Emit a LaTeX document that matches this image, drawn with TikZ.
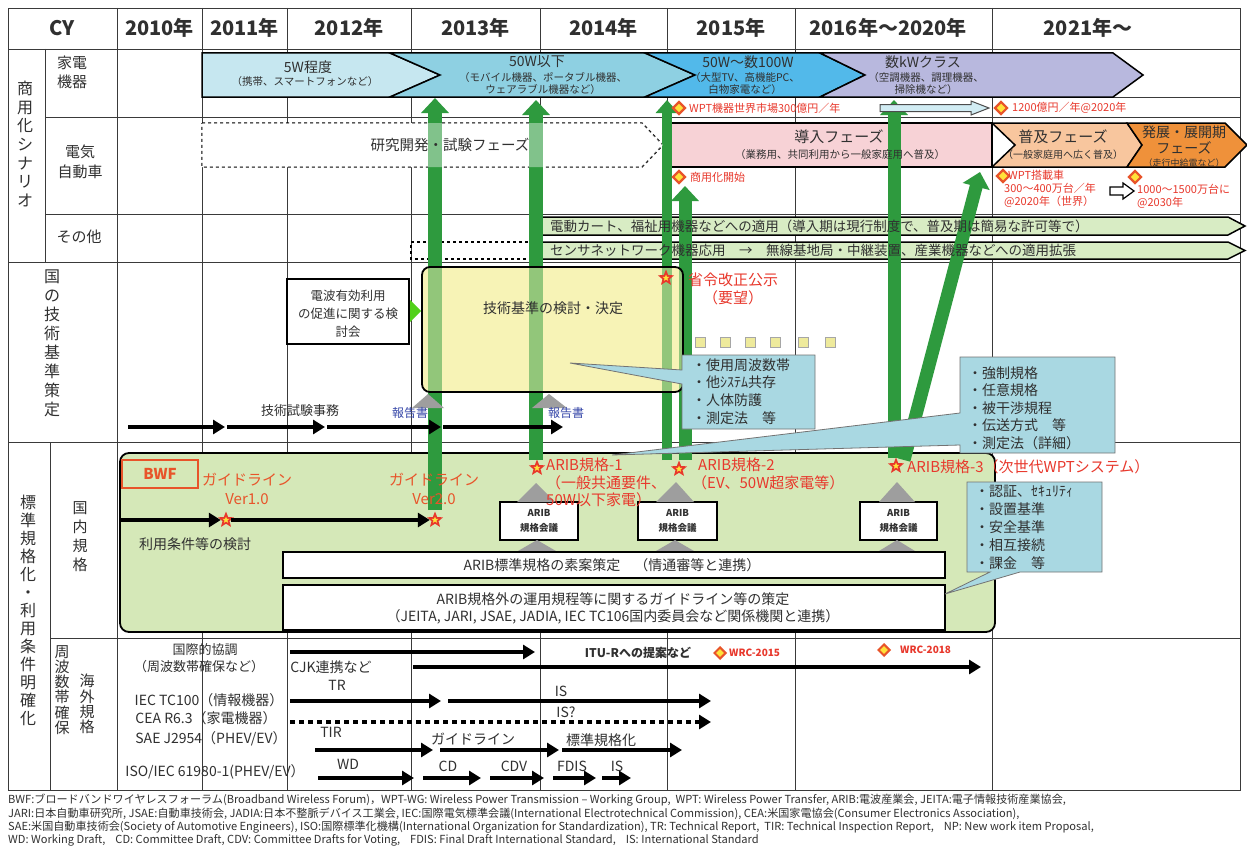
\documentclass[tikz,border=0pt]{standalone}
\usepackage{fontspec}
\setmainfont{Noto Sans CJK JP}
\usetikzlibrary{arrows.meta,shapes.geometric}
\definecolor{gridc}{HTML}{3A3A3A}
\definecolor{txt}{HTML}{303030}
\definecolor{cA}{HTML}{C6E7F0}
\definecolor{cB}{HTML}{8ED0E2}
\definecolor{cC}{HTML}{52B9EA}
\definecolor{cD}{HTML}{B8B8DE}
\definecolor{gArrow}{HTML}{2E9A3E}
\definecolor{band}{HTML}{D8ECC4}
\definecolor{pinkc}{HTML}{F7D2D6}
\definecolor{orL}{HTML}{F8C69E}
\definecolor{orD}{HTML}{EF913A}
\definecolor{yel}{HTML}{F7F3B6}
\definecolor{callc}{HTML}{A9D8E2}
\definecolor{grnbox}{HTML}{D5E8B8}
\definecolor{wred}{HTML}{E8382C}
\definecolor{blu}{HTML}{3546A8}
\definecolor{dorange}{HTML}{E8542A}
\definecolor{dyel}{HTML}{FFE23A}
\definecolor{sqc}{HTML}{EEEA9C}
\newcommand\F[2]{\fontsize{#1}{#2}\selectfont}
\begin{document}
\begin{tikzpicture}[x=1pt,y=-1pt,
  gl/.style={draw=gridc,line width=0.9pt},
  t/.style={inner sep=0pt,text=txt,align=center},
  rt/.style={inner sep=0pt,text=wred,align=left},
  box/.style={draw=black,line width=1.5pt},
  starO/.style={star,star points=5,star point ratio=2.3,fill=wred,inner sep=0pt,minimum size=17pt},
  starI/.style={star,star points=5,star point ratio=2.3,fill=dyel,inner sep=0pt,minimum size=7pt},
  dia/.style={diamond,draw=dorange,fill=dyel,line width=2.2pt,inner sep=0pt,minimum size=13pt},
  garr/.style={draw=gArrow,line width=13pt,-{Triangle[length=15pt 0,width=27pt 0]}},
  barr/.style={draw=black,line width=4.5pt,-{Triangle[length=12pt 0,width=14pt 0]}},
  gtri/.style={fill=black!38},
  call/.style={fill=callc,draw=black!55,line width=0.8pt},
  sq/.style={fill=sqc,draw=black!35,line width=0.6pt},
]
\useasboundingbox (0,0) rectangle (1247,851);
\fill[white] (0,0) rectangle (1247,851);

% ---------------- grid ----------------
\draw[gl] (8,8) rectangle (1240,790);
\foreach \x in {117,202,287,411,540,667,795,992} \draw[gl] (\x,8) -- (\x,790);
\draw[gl] (8,49) -- (1240,49);
\draw[gl] (45,117) -- (1240,117);
\draw[gl] (45,214) -- (1240,214);
\draw[gl] (8,262) -- (1240,262);
\draw[gl] (8,442) -- (1240,442);
\draw[gl] (50,638) -- (1240,638);
\draw[gl] (45,49) -- (45,262);
\draw[gl] (50,442) -- (50,790);
\draw[gl] (202,97) -- (1240,97);

% ---------------- header ----------------
\node[t,font=\F{20}{24}\bfseries] (hCY) at (62,28) {CY};
\node[t,font=\F{20}{24}\bfseries] (h10) at (159.5,28) {2010年};
\node[t,font=\F{20}{24}\bfseries] (h11) at (244.5,28) {2011年};
\node[t,font=\F{20}{24}\bfseries] (h12) at (349,28) {2012年};
\node[t,font=\F{20}{24}\bfseries] (h13) at (475.5,28) {2013年};
\node[t,font=\F{20}{24}\bfseries] (h14) at (603.5,28) {2014年};
\node[t,font=\F{20}{24}\bfseries] (h15) at (731,28) {2015年};
\node[t,font=\F{20}{24}\bfseries] (h16) at (888,28) {2016年～2020年};
\node[t,font=\F{20}{24}\bfseries] (h21) at (1088,28) {2021年～};

% ---------------- category labels ----------------
\node[t,font=\F{16}{18.7}] (catA) at (25,144) {商\\用\\化\\シ\\ナ\\リ\\オ};
\node[t,font=\F{15}{19}] (catKa) at (72,72) {家電\\機器};
\node[t,font=\F{15}{20}] (catEV) at (80,162) {電気\\自動車};
\node[t,font=\F{15}{18}] (catOt) at (79,237) {その他};
\node[t,font=\F{16}{19}] (catB) at (52,343.5) {国\\の\\技\\術\\基\\準\\策\\定};
\node[t,font=\F{16}{18}] (catC) at (28,610) {標\\準\\規\\格\\化\\・\\利\\用\\条\\件\\明\\確\\化};
\node[t,font=\F{15}{19}] (catD) at (80,537) {国\\内\\規\\格};
\node[t,font=\F{15}{15.2}] (catE) at (62,690) {周\\波\\数\\帯\\確\\保};
\node[t,font=\F{15}{15.3}] (catF) at (87,704) {海\\外\\規\\格};

% ---------------- 家電機器 chevrons ----------------
\path[box,fill=cA] (202,53) -- (390,53) -- (440,75) -- (390,97) -- (202,97) -- cycle;
\path[box,fill=cB] (390,53) -- (645,53) -- (695,75) -- (645,97) -- (390,97) -- (440,75) -- cycle;
\path[box,fill=cC] (645,53) -- (820,53) -- (865,75) -- (820,97) -- (645,97) -- (695,75) -- cycle;
\path[box,fill=cD] (820,53) -- (1113,53) -- (1143,75) -- (1113,97) -- (820,97) -- (865,75) -- cycle;

% ---------------- EV row shapes ----------------
\path[draw=black,line width=1.4pt,dashed,fill=white] (202,123) -- (642,123) -- (663,145) -- (642,167) -- (202,167) -- cycle;
\path[box,fill=pinkc] (667,123) rectangle (992,167);
\path[box,fill=orL] (992,123) -- (1127,123) -- (1142,145) -- (1127,167) -- (992,167) -- (1015,145) -- cycle;
\path[box,fill=orD] (1127,123) -- (1225,123) -- (1247,145) -- (1225,167) -- (1127,167) -- (1142,145) -- cycle;

% ---------------- その他 bands ----------------
\path[box,fill=band] (540,217) -- (1228,217) -- (1245,226) -- (1228,235) -- (540,235) -- cycle;
\draw[line width=1.4pt,dashed] (540,242) -- (411,242) -- (411,259) -- (540,259);
\path[box,fill=band] (540,242) -- (1228,242) -- (1245,250.5) -- (1228,259) -- (540,259) -- cycle;

% ---------------- 国の技術基準 shapes ----------------
\path[box,line width=1.2pt,fill=white] (287,279) rectangle (409,344);
\fill[green!60!lime!80!black!90] (410,300) -- (421,311) -- (410,322) -- cycle;
\path[fill=yel,rounded corners=8pt] (422,267) rectangle (683,392);

% ---------------- 国内規格 shapes ----------------
\path[box,line width=1.8pt,fill=grnbox,rounded corners=9pt] (120,453) rectangle (995,632);

% ---------------- green arrows ----------------
\coordinate (g1s) at (435,510); \coordinate (g1e) at (435,98);
\coordinate (g2s) at (536,460); \coordinate (g2e) at (536,100);
\coordinate (g3s) at (667,460); \coordinate (g3e) at (667,100);
\coordinate (g4s) at (685,460); \coordinate (g4e) at (685,186);
\coordinate (g5s) at (894,458); \coordinate (g5e) at (894,100);
\coordinate (g6s) at (904,460); \coordinate (g6e) at (980,172);
\draw[garr,line width=14pt] (g1s) -- (g1e);
\draw[garr,line width=14pt] (g2s) -- (g2e);
\draw[garr,line width=10pt,-{Triangle[length=13pt 0,width=22pt 0]}] (g3s) -- (g3e);
\draw[garr] (g4s) -- (g4e);
\draw[garr] (g5s) -- (g5e);
\draw[garr] (g6s) -- (g6e);

% translucent overlays
\path[fill=white,fill opacity=0.4] (202,123) -- (642,123) -- (663,145) -- (642,167) -- (202,167) -- cycle;
\path[fill=yel,fill opacity=0.5,rounded corners=8pt] (422,267) rectangle (683,392);
\draw[line width=1.8pt,rounded corners=8pt] (422,267) rectangle (683,392);

% ---------------- 国の技術基準 content ----------------
\node[t,font=\F{12.5}{18}] (kento) at (348,314) {電波有効利用\\の促進に関する検\\討会};
\node[t,font=\F{14}{16}] (kijun) at (553,308) {技術基準の検討・決定};
\node[starO] (sStar) at (666,278) {}; \node[starI] at (666,278) {};
\node[rt,font=\F{15}{18},align=center] (shorei) at (733,289) {省令改正公示\\（要望）};
\foreach \i/\x in {1/700,2/725,3/750,4/775,5/803,6/830} \node[sq,minimum size=10pt,inner sep=0pt] (sq\i) at (\x,342) {};

\path[call] (682,355) -- (815,355) -- (815,429) -- (682,429) -- (682,384) -- (570,363) -- (682,370) -- cycle;
\node[t,font=\F{14}{17.7},align=left,anchor=west] (c1t) at (692,391.5) {・使用周波数帯\\・他ｼｽﾃﾑ共存\\・人体防護\\・測定法　等};

\node[t,font=\F{13}{15}] (gishi) at (300,411) {技術試験事務};
\coordinate (a1) at (128,427); \coordinate (a2) at (225,427); \coordinate (a3) at (325,427);
\coordinate (a4) at (441,427); \coordinate (a5) at (563,427);
\draw[barr] (a1) -- (a2);
\draw[barr] ([xshift=2pt]a2) -- (a3);
\draw[barr] ([xshift=2pt]a3) -- (a4);
\draw[barr] ([xshift=2pt]a4) -- (a5);
\fill[gtri] (412,408) -- (428,394) -- (444,408) -- cycle;
\fill[gtri] (532,408) -- (549,394) -- (567,408) -- cycle;
\node[t,text=blu,font=\F{12}{14}] (rep1) at (410,413) {報告書};
\node[t,text=blu,font=\F{12}{14}] (rep2) at (566,413) {報告書};

% callout 2
\path[call] (960,357) -- (1115,357) -- (1115,453) -- (960,453) -- (960,445) -- (612,455) -- (960,413) -- cycle;
\node[t,font=\F{14}{17.5},align=left,anchor=west] (c2t) at (968,408) {・強制規格\\・任意規格\\・被干渉規程\\・伝送方式　等\\・測定法（詳細）};

% ---------------- 国内規格 content ----------------
\foreach \n/\xa/\xb in {m1/500/578,m2/638/717,m3/860/937}{
  \path[box,fill=white] (\xa,502) rectangle (\xb,540);
  \node[t,font=\F{9.5}{15}\bfseries] (\n) at ({(\xa+\xb)/2},521) {ARIB\\規格会議};
}
\fill[gtri] (517,502) -- (536,483) -- (555,502) -- cycle;
\fill[gtri] (656,502) -- (676,482) -- (694,502) -- cycle;
\fill[gtri] (879,502) -- (897,482) -- (915,502) -- cycle;
\fill[gtri] (518,551) -- (537,540) -- (556,551) -- cycle;
\fill[gtri] (656,551) -- (675,540) -- (694,551) -- cycle;
\fill[gtri] (879,551) -- (897,540) -- (915,551) -- cycle;

\path[draw=dorange,line width=1.5pt] (122,460) rectangle (198,488);
\node[t,text=dorange,font=\F{15}{17}\bfseries] (bwf) at (160,474) {BWF};
\node[rt,text=dorange,font=\F{15}{18.5},align=center] (gl1) at (247,489) {ガイドライン\\Ver1.0};
\node[rt,text=dorange,font=\F{15}{18.5},align=center] (gl2) at (434,489) {ガイドライン\\Ver2.0};
\node[starO] (st1) at (226,520) {}; \node[starI] at (226,520) {};
\node[starO] (st2) at (435,520) {}; \node[starI] at (435,520) {};
\coordinate (b0) at (120,520);
\draw[barr] (b0) -- (st1.west);
\draw[barr] (st1.east) -- (st2.west);
\node[t,font=\F{14}{16}] (riyo) at (195,544) {利用条件等の検討};

\node[starO] (ar1) at (537,468) {}; \node[starI] at (537,468) {};
\node[starO] (ar2) at (679,469) {}; \node[starI] at (679,469) {};
\node[starO] (ar3) at (896,466) {}; \node[starI] at (896,466) {};
\node[rt,font=\F{15}{17.5},anchor=north west] (ar1t) at (546,458) {ARIB規格-1\\（一般共通要件、\\50W以下家電）};
\node[rt,font=\F{15}{17.5},anchor=north west] (ar2t) at (692,458) {\hspace{6pt}ARIB規格-2\\（EV、50W超家電等）};
\node[rt,font=\F{15}{17.5},anchor=west] (ar3t) at (907,467) {ARIB規格-3（次世代WPTシステム）};

\path[box,fill=white] (283,552) rectangle (945,578);
\node[t,font=\F{14}{16}] (sotan) at (612,565) {ARIB標準規格の素案策定　（情通審等と連携）};
\path[box,fill=white] (283,585) rectangle (945,630);
\node[t,font=\F{14}{17}] (unyo) at (613,608) {ARIB規格外の運用規程等に関するガイドライン等の策定\\（JEITA, JARI, JSAE, JADIA, IEC TC106国内委員会など関係機関と連携）};

% callout 3
\path[call] (967,482) -- (1102,482) -- (1102,572) -- (1020,572) -- (945,594) -- (990,572) -- (967,572) -- cycle;
\node[t,font=\F{14}{17.8},align=left,anchor=west] (c3t) at (975,527.5) {・認証、ｾｷｭﾘﾃｨ\\・設置基準\\・安全基準\\・相互接続\\・課金　等};

% ---------------- 家電 row texts ----------------
\node[t,font=\F{14}{16}] (k1a) at (308,67) {5W程度};
\node[t,font=\F{10.5}{12}] (k1b) at (305,82) {（携帯、スマートフォンなど）};
\node[t,font=\F{14}{16}] (k2a) at (537,62) {50W以下};
\node[t,font=\F{10.5}{12}] (k2b) at (543,84) {（モバイル機器、ポータブル機器、\\ウェアラブル機器など）};
\node[t,font=\F{14}{16}] (k3a) at (748,62) {50W～数100W};
\node[t,font=\F{10.5}{12}] (k3b) at (745,84) {（大型TV、高機能PC、\\白物家電など）};
\node[t,font=\F{14}{16}] (k4a) at (923,62) {数kWクラス};
\node[t,font=\F{10.5}{12}] (k4b) at (926,84) {（空調機器、調理機器、\\掃除機など）};

\node[dia] (d1) at (679,108) {};
\node[rt,font=\F{11}{13},anchor=west] (wpt) at (689,108) {WPT機器世界市場300億円／年};
\path[fill=cA!80!white,draw=black!70,line width=1pt] (880,104.5) -- (971,104.5) -- (971,101) -- (989,108) -- (971,115) -- (971,111.5) -- (880,111.5) -- cycle;
\node[dia] (d2) at (1001,108) {};
\node[rt,font=\F{11}{13},anchor=west] (y1200) at (1012,108) {1200億円／年@2020年};

% ---------------- EV texts ----------------
\node[t,font=\F{14.5}{16}] (kenkyu) at (450,145) {研究開発・試験フェーズ};
\node[t,font=\F{15}{17}] (dounyu) at (839,137) {導入フェーズ};
\node[t,font=\F{10.5}{12}] (dounyub) at (840,155) {（業務用、共同利用から一般家庭用へ普及）};
\node[t,font=\F{15}{17}] (fukyu) at (1063,137) {普及フェーズ};
\node[t,font=\F{10}{12}] (fukyub) at (1063,155) {（一般家庭用へ広く普及）};
\node[t,font=\F{14}{16.5}] (hatten) at (1184,140) {発展・展開期\\フェーズ};
\node[t,font=\F{9}{10}] (hattenb) at (1184,163) {（走行中給電など）};

\node[dia] (d3) at (679,177) {};
\node[rt,font=\F{11}{13},anchor=west] (shoyo) at (690,177) {商用化開始};
\node[dia] (d4) at (1003,176) {};
\node[rt,font=\F{11}{13},anchor=north west] (wpts) at (1004,170) {\hspace{4pt}WPT搭載車\\300～400万台／年\\@2020年（世界）};
\path[fill=white,draw=black,line width=1.2pt] (1110,187) -- (1123,187) -- (1123,183) -- (1134,191) -- (1123,199) -- (1123,195) -- (1110,195) -- cycle;
\node[dia] (d5) at (1135,177) {};
\node[rt,font=\F{11}{13},anchor=north west] (w2030) at (1137,184) {1000～1500万台に\\@2030年};

% ---------------- その他 texts ----------------
\node[t,font=\F{13.5}{15},anchor=west] (sonota1) at (550,226) {電動カート、福祉用機器などへの適用（導入期は現行制度で、普及期は簡易な許可等で）};
\node[t,font=\F{13.5}{15},anchor=west] (sonota2) at (550,250.5) {センサネットワーク機器応用　→　無線基地局・中継装置、産業機器などへの適用拡張};

% ---------------- 海外規格 ----------------
\node[t,font=\F{13}{15}] (kokusai) at (205,650) {国際的協調};
\node[t,font=\F{13}{15}] (kokusaib) at (199,667) {（周波数帯確保など）};
\node[t,font=\F{14}{16}] (iec) at (209,700) {IEC TC100（情報機器）};
\node[t,font=\F{14}{16}] (cea) at (206,718) {CEA R6.3（家電機器）};
\node[t,font=\F{14}{16}] (sae) at (211,739) {SAE J2954（PHEV/EV）};
\node[t,font=\F{14}{16}] (iso) at (215,772) {ISO/IEC 61980-1(PHEV/EV）};
\node[t,font=\F{14}{16}] (cjk) at (331,667) {CJK連携など};

\coordinate (k1) at (290,652); \coordinate (k2) at (535,652);
\draw[barr] (k1) -- (k2);
\coordinate (cj1) at (413,667); \coordinate (cj2) at (981,667);
\draw[barr] (cj1) -- (cj2);
\node[t,font=\F{12}{14}\bfseries] (itu) at (638,653) {ITU-Rへの提案など};
\node[dia,minimum size=12pt,line width=2pt] (w15d) at (720,653) {};
\node[rt,font=\F{10}{12}\bfseries,anchor=west] (w15) at (729,653) {WRC-2015};
\node[dia,minimum size=12pt,line width=2pt] (w18d) at (884,650) {};
\node[rt,font=\F{10}{12}\bfseries,anchor=west] (w18) at (900,650) {WRC-2018};

\coordinate (tr1) at (290,701); \coordinate (tr2) at (441,701);
\coordinate (tr3) at (448,701); \coordinate (tr4) at (711,701);
\draw[barr] (tr1) -- (tr2);
\draw[barr] (tr3) -- (tr4);
\node[t,font=\F{14}{16}] (lTR) at (337,685) {TR};
\node[t,font=\F{14}{16}] (lIS1) at (561,691) {IS};
\node[t,font=\F{14}{16}] (lIS2) at (566,712) {IS?};
\coordinate (ce1) at (290,722); \coordinate (ce2) at (711,722);
\draw[barr,dash pattern=on 4.5pt off 4.5pt] (ce1) -- (ce2);

\coordinate (s1) at (315,750); \coordinate (s2) at (433,750);
\coordinate (s3) at (440,750); \coordinate (s4) at (559,750);
\coordinate (s5) at (562,750); \coordinate (s6) at (682,750);
\draw[barr] (s1) -- (s2);
\draw[barr] (s3) -- (s4);
\draw[barr] (s5) -- (s6);
\node[t,font=\F{14}{16}] (lTIR) at (331,732) {TIR};
\node[t,font=\F{14}{16}] (lGL) at (473,739) {ガイドライン};
\node[t,font=\F{14}{16}] (lHK) at (601,740) {標準規格化};

\coordinate (i1) at (318,778); \coordinate (i2) at (414,778);
\coordinate (i3) at (423,778); \coordinate (i4) at (481,778);
\coordinate (i5) at (490,778); \coordinate (i6) at (544,778);
\coordinate (i7) at (553,778); \coordinate (i8) at (596,778);
\coordinate (i9) at (602,778); \coordinate (i10) at (631,778);
\draw[barr] (i1) -- (i2);
\draw[barr] (i3) -- (i4);
\draw[barr] (i5) -- (i6);
\draw[barr] (i7) -- (i8);
\draw[barr] (i9) -- (i10);
\node[t,font=\F{14}{16}] (lWD) at (348,764) {WD};
\node[t,font=\F{14}{16}] (lCD) at (448,766) {CD};
\node[t,font=\F{14}{16}] (lCDV) at (514,766) {CDV};
\node[t,font=\F{14}{16}] (lFDIS) at (572,766) {FDIS};
\node[t,font=\F{14}{16}] (lIS3) at (617,766) {IS};

% ---------------- footer ----------------
\node[t,font=\F{11.1}{13.3},align=left,anchor=north west] (foot) at (8,794) {BWF:ブロードバンドワイヤレスフォーラム(Broadband Wireless Forum)，WPT-WG: Wireless Power Transmission – Working Group,\ \ WPT: Wireless Power Transfer, ARIB:電波産業会, JEITA:電子情報技術産業協会,\\
JARI:日本自動車研究所, JSAE:自動車技術会, JADIA:日本不整脈デバイス工業会, IEC:国際電気標準会議(International Electrotechnical Commission), CEA:米国家電協会(Consumer Electronics Association),\\
SAE:米国自動車技術会(Society of Automotive Engineers), ISO:国際標準化機構(International Organization for Standardization), TR: Technical Report,\ \ TIR: Technical Inspection Report,\ \ \ \ NP: New work item Proposal,\\
WD: Working Draft,\ \ \ \ CD: Committee Draft, CDV: Committee Drafts for Voting,\ \ \ \ FDIS: Final Draft International Standard,\ \ \ \ IS: International Standard};
\end{tikzpicture}
\end{document}
